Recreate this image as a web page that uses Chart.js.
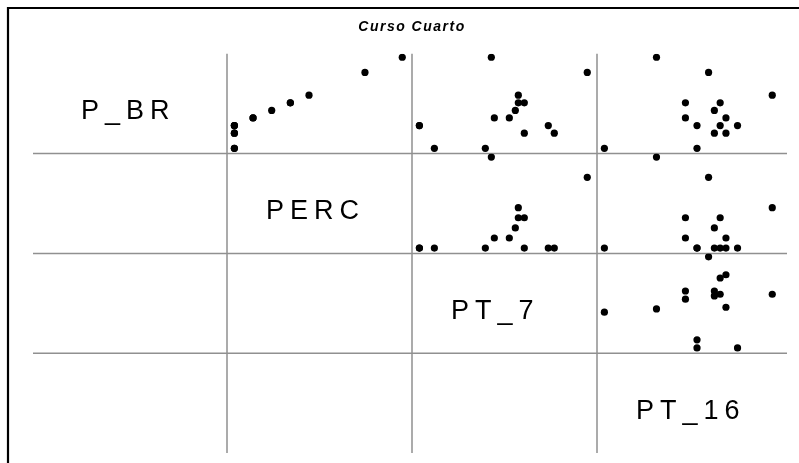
<!DOCTYPE html>
<html>
<head>
<meta charset="utf-8">
<script src="https://cdn.jsdelivr.net/npm/chart.js@4.4.0/dist/chart.umd.min.js"></script>
<style>
  html, body { margin: 0; padding: 0; background: #fff; }
</style>
</head>
<body>
<canvas id="mycanvas" width="799" height="463"></canvas>
<script>
var chartTitle = 'Curso Cuarto';
var variables = ['P_BR', 'PERC', 'PT_7', 'PT_16'];

// one entry per student (15 cases)
var p_br  = [22, 20, 17, 16, 16, 15, 14, 14, 13, 13, 13, 12, 12, 10, 10];
var perc  = [50, 40, 25, 20, 20, 15, 10, 10,  5,  5,  5,  5,  5,  5,  5];
var pt_7  = [44, 76, 53, 53, 55, 52, 45, 50, 20, 20, 63, 55, 65, 25, 42];
var pt_16 = [19, 28, 39, 30, 24, 29, 31, 24, 26, 33, 30, 29, 31, 26, 10];

var values = [p_br, perc, pt_7, pt_16];

// scatterplot matrix: only the upper triangle has points
var datasets = [];
for (var r = 0; r < 4; r++) {
    for (var c = r + 1; c < 4; c++) {
        var pts = [];
        for (var i = 0; i < values[r].length; i++) {
            pts.push({x: values[c][i], y: values[r][i]});
        }
        datasets.push({
            label: variables[r] + ' vs ' + variables[c],
            data: pts,
            xAxisID: 'x' + c,
            yAxisID: 'y' + r,
            backgroundColor: '#000',
            borderWidth: 0,
            pointRadius: 3.6
        });
    }
}

function range(arr) {
    return {lo: Math.min.apply(null, arr), hi: Math.max.apply(null, arr)};
}

var scales = {};
for (var c = 0; c < 4; c++) {
    var rg = range(values[c]);
    var span = rg.hi - rg.lo;
    scales['x' + c] = {
        type: 'linear', position: 'bottom', stack: 'cols', stackWeight: 1,
        display: false,
        min: rg.lo - span * 0.044, max: rg.hi + span * 0.058
    };
}
for (var r = 3; r >= 0; r--) {
    var rg = range(values[r]);
    var span = rg.hi - rg.lo;
    scales['y' + r] = {
        type: 'linear', position: 'left', stack: 'rows', stackWeight: 1,
        display: false,
        min: rg.lo - span * 0.058, max: rg.hi + span * 0.038
    };
}

var matrixPlugin = {
    id: 'matrix',
    beforeDraw: function(chart) {
        var ctx = chart.ctx;
        ctx.save();
        ctx.strokeStyle = '#000';
        ctx.lineWidth = 2.2;
        ctx.beginPath();
        ctx.moveTo(8, 463); ctx.lineTo(8, 8); ctx.lineTo(799, 8);
        ctx.stroke();
        ctx.restore();
        // title is drawn by Chart.js after this, with a little tracking
        ctx.letterSpacing = '1.5px';
    },
    beforeDatasetsDraw: function(chart) {
        var ctx = chart.ctx, a = chart.chartArea;
        ctx.save();
        ctx.strokeStyle = '#909090';
        ctx.lineWidth = 1.5;
        ctx.beginPath();
        for (var c = 1; c < 4; c++) {
            var x = chart.scales['x' + c].left;
            ctx.moveTo(x, a.top); ctx.lineTo(x, a.bottom);
        }
        for (var r = 0; r < 3; r++) {
            var y = chart.scales['y' + r].bottom;
            ctx.moveTo(a.left - 9, y); ctx.lineTo(a.right + 5, y);
        }
        ctx.stroke();

        // variable names on the diagonal
        ctx.fillStyle = '#000';
        ctx.font = '27px "Liberation Sans", Arial, sans-serif';
        ctx.letterSpacing = '6px';
        ctx.textAlign = 'left';
        ctx.textBaseline = 'middle';
        for (var k = 0; k < 4; k++) {
            var sx = chart.scales['x' + k], sy = chart.scales['y' + k];
            ctx.fillText(variables[k], sx.left + 39, (sy.top + sy.bottom) / 2 + 8);
        }
        ctx.restore();
    }
};

var ctx = document.getElementById('mycanvas');
var matrix = new Chart(ctx, {
    type: 'scatter',
    data: {datasets: datasets},
    options: {
        responsive: false,
        animation: false,
        events: [],
        layout: {padding: {left: 42, right: 17, top: 0, bottom: 10}},
        scales: scales,
        plugins: {
            legend: {display: false},
            tooltip: {enabled: false},
            title: {
                display: true,
                text: chartTitle,
                color: '#000',
                font: {family: '"Liberation Sans", Arial, sans-serif', size: 14, weight: 'bold', style: 'italic'},
                padding: {top: 19, bottom: 18}
            }
        }
    },
    plugins: [matrixPlugin]
});
</script>
</body>
</html>
